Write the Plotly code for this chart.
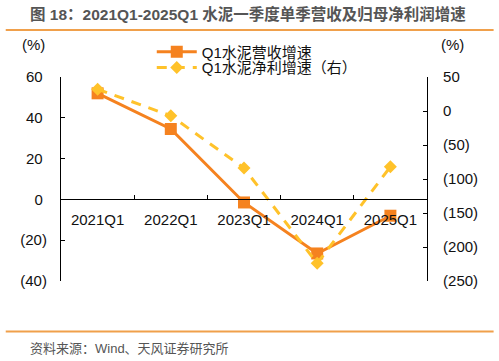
import plotly.graph_objects as go

categories = ["2021Q1", "2022Q1", "2023Q1", "2024Q1", "2025Q1"]
revenue_growth = [52, 34.5, -1.5, -26.5, -8]
profit_growth = [32, -7, -84, -224, -82]

left_ticks = [-40, -20, 0, 20, 40, 60]
right_ticks = [-250, -200, -150, -100, -50, 0, 50]


def fmt_left(v):
    return f"({abs(v)})" if v < 0 else f"{v}\u00a0"


def fmt_right(v):
    return f"({abs(v)})" if v < 0 else f"{v}"


ORANGE = "#F5821F"
YELLOW = "#FFC22A"
FONT = "Arial, 'Liberation Sans', 'Noto Sans CJK SC', sans-serif"

fig = go.Figure()
fig.add_trace(go.Scatter(
    x=categories, y=revenue_growth, name="Q1水泥营收增速",
    mode="lines+markers",
    line=dict(color=ORANGE, width=3),
    marker=dict(symbol="square", size=12, color=ORANGE),
    yaxis="y", legend="legend",
))
fig.add_trace(go.Scatter(
    x=categories, y=profit_growth, name="Q1水泥净利增速（右）",
    mode="lines+markers",
    line=dict(color=YELLOW, width=3, dash="10px,8px"),
    marker=dict(symbol="diamond", size=10, color=YELLOW),
    yaxis="y2", legend="legend2",
))

fig.update_layout(
    width=499, height=361,
    margin=dict(l=61, r=72, t=77, b=80),
    paper_bgcolor="white", plot_bgcolor="white",
    font=dict(family=FONT, size=15, color="#111"),
    showlegend=True,
    xaxis=dict(
        type="category", range=[-0.5, 4.5],
        anchor="free", position=0.4,
        showline=True, linecolor="black", linewidth=1.2,
        ticks="inside", ticklen=4, tickcolor="black", tickson="boundaries",
        showgrid=False, zeroline=False,
        ticklabelstandoff=6,
        tickfont=dict(size=15, color="#111"),
    ),
    yaxis=dict(
        range=[-40, 60], tickvals=left_ticks,
        ticktext=[fmt_left(v) for v in left_ticks],
        showline=True, linecolor="black", linewidth=1.2,
        ticks="inside", ticklen=4, tickcolor="black",
        showgrid=False, zeroline=False,
        ticklabelstandoff=10,
    ),
    yaxis2=dict(
        range=[-250, 50], tickvals=right_ticks,
        ticktext=[fmt_right(v) for v in right_ticks],
        overlaying="y", side="right", anchor="x",
        showline=True, linecolor="black", linewidth=1.2,
        ticks="inside", ticklen=4, tickcolor="black",
        showgrid=False, zeroline=False,
        ticklabelstandoff=12,
    ),
    legend=dict(
        x=0.248, y=1.1225, xanchor="left", yanchor="middle",
        bgcolor="rgba(0,0,0,0)", font=dict(size=15, color="#111"),
        itemwidth=40,
    ),
    legend2=dict(
        x=0.248, y=1.045, xanchor="left", yanchor="middle",
        bgcolor="rgba(0,0,0,0)", font=dict(size=15, color="#111"),
        itemwidth=40,
    ),
    shapes=[
        dict(type="line", xref="paper", yref="paper",
             x0=-0.151, x1=1.182, y0=1.23, y1=1.23,
             line=dict(color="#F0A04B", width=2)),
        dict(type="line", xref="paper", yref="paper",
             x0=-0.151, x1=1.182, y0=-0.247, y1=-0.247,
             line=dict(color="#F0A04B", width=2)),
    ],
    annotations=[
        dict(text="<b>图 18：2021Q1-2025Q1 水泥一季度单季营收及归母净利润增速</b>",
             xref="paper", yref="paper", x=-0.09, y=1.31,
             xanchor="left", yanchor="middle", showarrow=False,
             font=dict(size=15.5, color="#555")),
        dict(text="(%)", xref="paper", yref="paper", x=-0.076, y=1.16,
             xanchor="center", yanchor="middle", showarrow=False,
             font=dict(size=15, color="#111")),
        dict(text="(%)", xref="paper", yref="paper", x=1.07, y=1.16,
             xanchor="center", yanchor="middle", showarrow=False,
             font=dict(size=15, color="#111")),
        dict(text="资料来源：Wind、天风证券研究所",
             xref="paper", yref="paper", x=-0.09, y=-0.33,
             xanchor="left", yanchor="middle", showarrow=False,
             font=dict(size=13, color="#555")),
    ],
)

fig.write_html("out.html", config={"displayModeBar": False},
               post_script="document.body.style.margin='0';")
